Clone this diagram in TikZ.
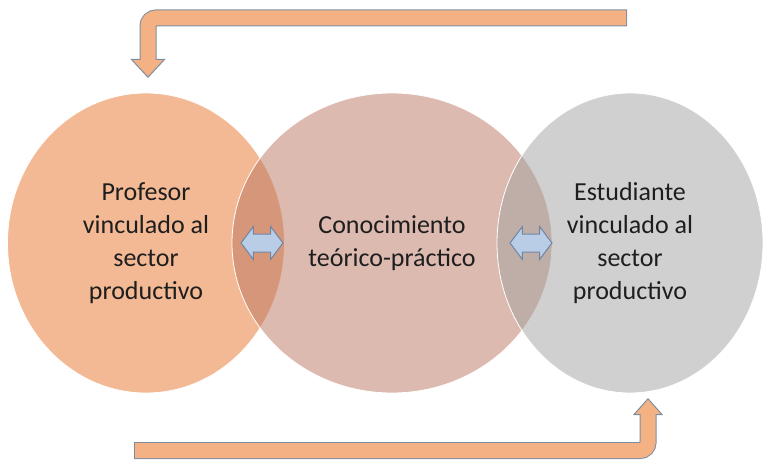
\documentclass[tikz,border=0pt]{standalone}
\usepackage{fontspec}
\setmainfont{Carlito}
\usetikzlibrary{shapes.geometric,shapes.arrows,arrows.meta}

\definecolor{profcolor}{RGB}{243,185,148}
\definecolor{conoccolor}{RGB}{187,117,97}
\definecolor{estudcolor}{RGB}{162,162,162}
\definecolor{flowfill}{RGB}{244,177,131}
\definecolor{flowline}{RGB}{125,141,161}
\definecolor{linkfill}{RGB}{186,205,230}
\definecolor{linkline}{RGB}{112,134,162}
\definecolor{textcolor}{RGB}{30,30,30}

\tikzset{
  bubble/.style={
    ellipse,
    draw=white,
    line width=0.8pt,
    minimum height=300pt,
    inner sep=0pt,
    align=center,
    text=textcolor,
    text opacity=1,
    font=\fontsize{26}{33}\selectfont,
  },
  link/.style={
    double arrow,
    draw=linkline,
    fill=linkfill,
    line width=1pt,
    inner xsep=0pt,
    inner ysep=8.5pt,
    minimum height=42pt,
    double arrow head extend=7.5pt,
    double arrow tip angle=106,
  },
}

\begin{document}
\begin{tikzpicture}[x=1pt, y=-1pt]
  \useasboundingbox (0,0) rectangle (764,460);

  % circulos
  \node[bubble, fill=profcolor, minimum width=277pt] (prof) at (146,243)
    {Profesor\\vinculado al\\sector\\productivo};
  \node[bubble, fill=conoccolor, fill opacity=0.5, minimum width=320pt] (conoc) at (392,243)
    {Conocimiento\\teórico-práctico};
  \node[bubble, fill=estudcolor, fill opacity=0.5, minimum width=266pt] (estud) at (630,243)
    {Estudiante\\vinculado al\\sector\\productivo};

  % flechas dobles
  \node[link] (link1) at (262,243) {};
  \node[link] (link2) at (531,243) {};

  % flechas de retorno
  \coordinate (topstart) at (627,18);
  \coordinate (toptip) at (148,78);
  \coordinate (botstart) at (134,450.5);
  \coordinate (bottip) at (648,398);

  \draw[flowline, line width=17pt, rounded corners=8pt,
    -{Triangle[width=35pt,length=19pt,fill=flowfill,color=flowline,line width=1pt]}]
    (topstart) -| (toptip);
  \draw[flowfill, line width=15pt, rounded corners=8pt, shorten <=1pt, shorten >=18pt]
    (topstart) -| (toptip);

  \draw[flowline, line width=17pt, rounded corners=8pt,
    -{Triangle[width=30pt,length=17pt,fill=flowfill,color=flowline,line width=1pt]}]
    (botstart) -| (bottip);
  \draw[flowfill, line width=15pt, rounded corners=8pt, shorten <=1pt, shorten >=16pt]
    (botstart) -| (bottip);
\end{tikzpicture}
\end{document}
